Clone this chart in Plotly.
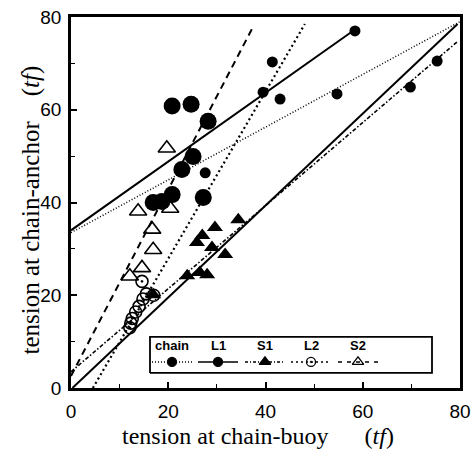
import plotly.graph_objects as go

# ---- data ----
chain_x = [20.8, 24.7, 28.2, 25.1, 22.8, 27.2, 20.8, 16.9, 18.7]
chain_y = [60.8, 61.2, 57.5, 49.9, 47.1, 41.1, 41.7, 40.0, 40.2]

l1_x = [27.6, 39.5, 41.4, 43.0, 54.7, 58.4, 69.8, 75.3]
l1_y = [46.4, 63.8, 70.3, 62.3, 63.4, 77.0, 64.9, 70.5]

s1_x = [34.4, 29.6, 27.0, 25.9, 29.0, 31.7, 23.9, 26.5, 28.0, 16.9]
s1_y = [36.3, 34.6, 32.9, 31.4, 30.3, 28.8, 24.2, 24.9, 24.4, 20.1]

l2_x = [12.1, 12.3, 12.6, 13.3, 14.0, 14.8, 15.5, 17.0, 14.6]
l2_y = [13.0, 14.0, 15.0, 16.4, 17.6, 19.2, 20.3, 20.0, 23.0]

s2_x = [19.7, 13.8, 20.4, 16.7, 16.9, 14.6, 12.1]
s2_y = [51.7, 38.1, 38.7, 34.2, 29.8, 25.9, 24.1]

# fitted lines (end points)
chain_fit_x = [0, 80]; chain_fit_y = [33.5, 79.0]
l1_fit_x = [0, 58.4]; l1_fit_y = [34.0, 77.3]
ref_x = [0.3, 79.5]; ref_y = [0, 78.5]
s1_fit_x = [0, 79.6]; s1_fit_y = [3.5, 74.8]
l2_fit_x = [4.5, 48.1]; l2_fit_y = [0, 78.5]
s2_fit_x = [0, 37.5]; s2_fit_y = [2.6, 78.0]

x_ticks = [0, 20, 40, 60, 80]
y_ticks = [0, 20, 40, 60, 80]

legend_names = ["chain", "L1", "S1", "L2", "S2"]

fig = go.Figure()
K = "black"

def line(x, y, dash, w):
    fig.add_trace(go.Scatter(x=x, y=y, mode="lines",
                             line=dict(color=K, width=w, dash=dash),
                             showlegend=False, hoverinfo="skip"))

line(chain_fit_x, chain_fit_y, "1px,2px", 1.5)
line(l1_fit_x, l1_fit_y, "solid", 2)
line(ref_x, ref_y, "solid", 2)
line(s1_fit_x, s1_fit_y, "4px,2px,1.5px,2px", 1.6)
line(l2_fit_x, l2_fit_y, "2px,3px", 2.2)
line(s2_fit_x, s2_fit_y, "7px,5px", 2)

def pts(x, y, sym, size, lw=1.5):
    fig.add_trace(go.Scatter(x=x, y=y, mode="markers",
                             marker=dict(symbol=sym, size=size, color=K,
                                         line=dict(color=K, width=lw)),
                             showlegend=False, hoverinfo="skip"))

pts(l2_x, l2_y, "circle-open-dot", 12, 1.6)
pts(s2_x, s2_y, "triangle-up-open", 15, 1.6)
pts(s1_x, s1_y, "triangle-up", 14, 0)
pts(chain_x, chain_y, "circle", 17, 0)
pts(l1_x, l1_y, "circle", 11, 0)

# ---- custom legend on an overlay axis (plot-area fraction) ----
def fx(px): return (px - 71) / 389
def fy(py): return (388 - py) / 370

box_x0, box_x1, box_y0, box_y1 = fx(150), fx(432), fy(373), fy(337)
fig.add_trace(go.Scatter(x=[box_x0, box_x1, box_x1, box_x0, box_x0],
                         y=[box_y0, box_y0, box_y1, box_y1, box_y0],
                         mode="lines", line=dict(color=K, width=1.8),
                         fill="toself", fillcolor="white",
                         xaxis="x2", yaxis="y2", showlegend=False, hoverinfo="skip"))

leg_centers = [172, 218, 265, 311, 358]
leg_dash = ["1px,2px", "solid", "3px,2px,1px,2px", "2px,3px", "4px,5px"]
leg_sym = ["circle", "circle", "triangle-up", "circle-open-dot", "triangle-up-open"]
leg_size = [9, 9, 10, 9, 10]
for i, c in enumerate(leg_centers):
    fig.add_trace(go.Scatter(x=[fx(c - 20), fx(c + 20)], y=[fy(362), fy(362)],
                             mode="lines", line=dict(color=K, width=1.5, dash=leg_dash[i]),
                             xaxis="x2", yaxis="y2", showlegend=False, hoverinfo="skip"))
    fig.add_trace(go.Scatter(x=[fx(c)], y=[fy(362)], mode="markers",
                             marker=dict(symbol=leg_sym[i], size=leg_size[i], color=K,
                                         line=dict(color=K, width=1.3)),
                             xaxis="x2", yaxis="y2", showlegend=False, hoverinfo="skip"))
    fig.add_annotation(x=fx(c), y=fy(346), xref="x2", yref="y2", text="<b>%s</b>" % legend_names[i],
                       showarrow=False, xanchor="center", yanchor="middle",
                       font=dict(family="Liberation Sans Narrow, Liberation Sans", size=13, color=K))

tickfont = dict(family="Liberation Sans Narrow, Liberation Sans", size=19, color=K)
axis_common = dict(showgrid=False, zeroline=False, showline=True, linecolor=K, linewidth=2.5,
                   mirror=True, ticks="inside", ticklen=6, tickwidth=1.5, tickcolor=K,
                   minor=dict(ticks="inside", ticklen=4, tickwidth=1.2, tickcolor=K, dtick=10),
                   tickfont=tickfont, automargin=False)

fig.update_layout(
    width=471, height=462,
    margin=dict(l=71, r=11, t=17, b=74, autoexpand=False),
    paper_bgcolor="white", plot_bgcolor="white",
    showlegend=False,
    xaxis=dict(range=[0, 80], tickvals=x_ticks, ticklabelstandoff=4, **axis_common),
    yaxis=dict(range=[0, 80], tickvals=y_ticks, ticklabelstandoff=3, **axis_common),
    xaxis2=dict(range=[0, 1], overlaying="x", visible=False, fixedrange=True),
    yaxis2=dict(range=[0, 1], overlaying="y", visible=False, fixedrange=True),
)

serif = "Liberation Serif, DejaVu Serif, serif"
fig.add_annotation(x=(258 - 71) / 389, y=(388 - 436) / 370, xref="paper", yref="paper",
                   xanchor="center", yanchor="middle",
                   text="tension at chain-buoy" + "\u00a0" * 6 + "(<i>tf</i>)", showarrow=False,
                   font=dict(family=serif, size=24, color=K))
fig.add_annotation(x=(31 - 71) / 389, y=(388 - 211) / 370, xref="paper", yref="paper",
                   xanchor="center", yanchor="middle",
                   text="tension at chain-anchor" + "\u00a0" * 4 + "(<i>tf</i>)", showarrow=False,
                   textangle=-90, font=dict(family=serif, size=25, color=K))

fig.write_html("out.html")
